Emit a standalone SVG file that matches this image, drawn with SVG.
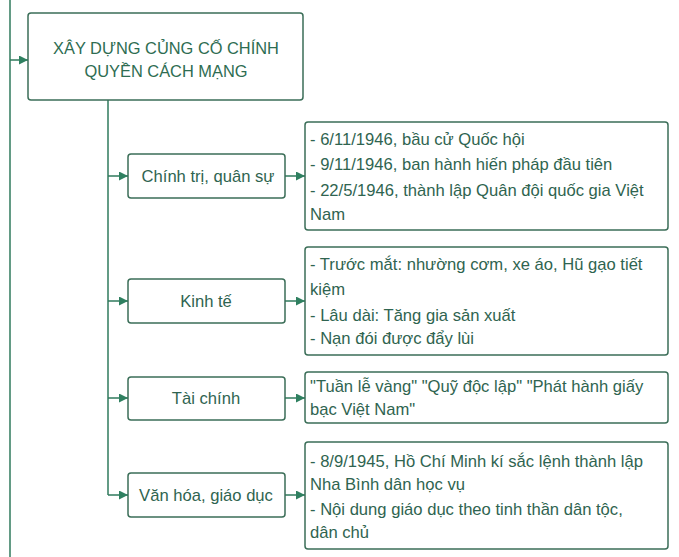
<svg xmlns="http://www.w3.org/2000/svg" width="679" height="557" viewBox="0 0 679 557">
<style>
.box{fill:#fff;stroke:#3b6e58;stroke-width:1.5}
.ln{fill:none;stroke:#2f7a5c;stroke-width:1.5}
.t{font-family:"Liberation Sans",Arial,sans-serif;fill:#2f6450;font-size:16.6px}
.c{text-anchor:middle}
.title{font-size:16.4px;fill:#2e6d52}
</style>
<defs>
<marker id="ah" viewBox="0 0 10 10" refX="10" refY="5" markerWidth="9" markerHeight="9" markerUnits="userSpaceOnUse" orient="auto">
<path d="M0,0 L10,5 L0,10 z" fill="#2f8060"/>
</marker>
</defs>
<rect width="679" height="557" fill="#fff"/>
<g id="connectors">
<line class="ln" x1="10" y1="0" x2="10" y2="557"/>
<line class="ln" x1="10" y1="60" x2="28" y2="60" marker-end="url(#ah)"/>
<polyline class="ln" points="108,100 108,495"/>
<line class="ln" x1="108" y1="176" x2="128" y2="176" marker-end="url(#ah)"/>
<line class="ln" x1="108" y1="301" x2="128" y2="301" marker-end="url(#ah)"/>
<line class="ln" x1="108" y1="398" x2="128" y2="398" marker-end="url(#ah)"/>
<line class="ln" x1="108" y1="495" x2="128" y2="495" marker-end="url(#ah)"/>
<line class="ln" x1="285" y1="176" x2="305" y2="176" marker-end="url(#ah)"/>
<line class="ln" x1="285" y1="301" x2="305" y2="301" marker-end="url(#ah)"/>
<line class="ln" x1="285" y1="398" x2="305" y2="398" marker-end="url(#ah)"/>
<line class="ln" x1="285" y1="495" x2="305" y2="495" marker-end="url(#ah)"/>
</g>
<g id="main">
<rect class="box" x="28" y="13" width="275" height="87" rx="3"/>
<text class="t c title" x="166" y="54">XÂY DỰNG CỦNG CỐ CHÍNH</text>
<text class="t c title" x="166" y="77">QUYỀN CÁCH MẠNG</text>
</g>
<g id="chinhtri">
<rect class="box" x="128" y="154" width="157" height="44" rx="3"/>
<text class="t c" x="208" y="182">Chính trị, quân sự</text>
</g>
<g id="kinhte">
<rect class="box" x="128" y="279" width="157" height="44" rx="3"/>
<text class="t c" x="206" y="307">Kinh tế</text>
</g>
<g id="taichinh">
<rect class="box" x="128" y="377" width="157" height="43" rx="3"/>
<text class="t c" x="206" y="404">Tài chính</text>
</g>
<g id="vanhoa">
<rect class="box" x="128" y="473" width="157" height="44" rx="3"/>
<text class="t c" x="206" y="501">Văn hóa, giáo dục</text>
</g>
<g id="chinhtri-detail">
<rect class="box" x="305" y="122" width="363" height="108" rx="3"/>
<text class="t" x="310" y="145">- 6/11/1946, bầu cử Quốc hội</text>
<text class="t" x="310" y="170">- 9/11/1946, ban hành hiến pháp đầu tiên</text>
<text class="t" x="310" y="196">- 22/5/1946, thành lập Quân đội quốc gia Việt</text>
<text class="t" x="310" y="220">Nam</text>
</g>
<g id="kinhte-detail">
<rect class="box" x="305" y="247" width="363" height="108" rx="3"/>
<text class="t" x="310" y="270">- Trước mắt: nhường cơm, xe áo, Hũ gạo tiết</text>
<text class="t" x="310" y="295">kiệm</text>
<text class="t" x="310" y="321">- Lâu dài: Tăng gia sản xuất</text>
<text class="t" x="310" y="344">- Nạn đói được đẩy lùi</text>
</g>
<g id="taichinh-detail">
<rect class="box" x="305" y="372" width="363" height="51" rx="3"/>
<text class="t" x="310" y="392">"Tuần lễ vàng" "Quỹ độc lập" "Phát hành giấy</text>
<text class="t" x="310" y="415">bạc Việt Nam"</text>
</g>
<g id="vanhoa-detail">
<rect class="box" x="305" y="442" width="363" height="107" rx="3"/>
<text class="t" x="310" y="467">- 8/9/1945, Hồ Chí Minh kí sắc lệnh thành lập</text>
<text class="t" x="310" y="490">Nha Bình dân học vụ</text>
<text class="t" x="310" y="515">- Nội dung giáo dục theo tinh thần dân tộc,</text>
<text class="t" x="310" y="538">dân chủ</text>
</g>
</svg>
